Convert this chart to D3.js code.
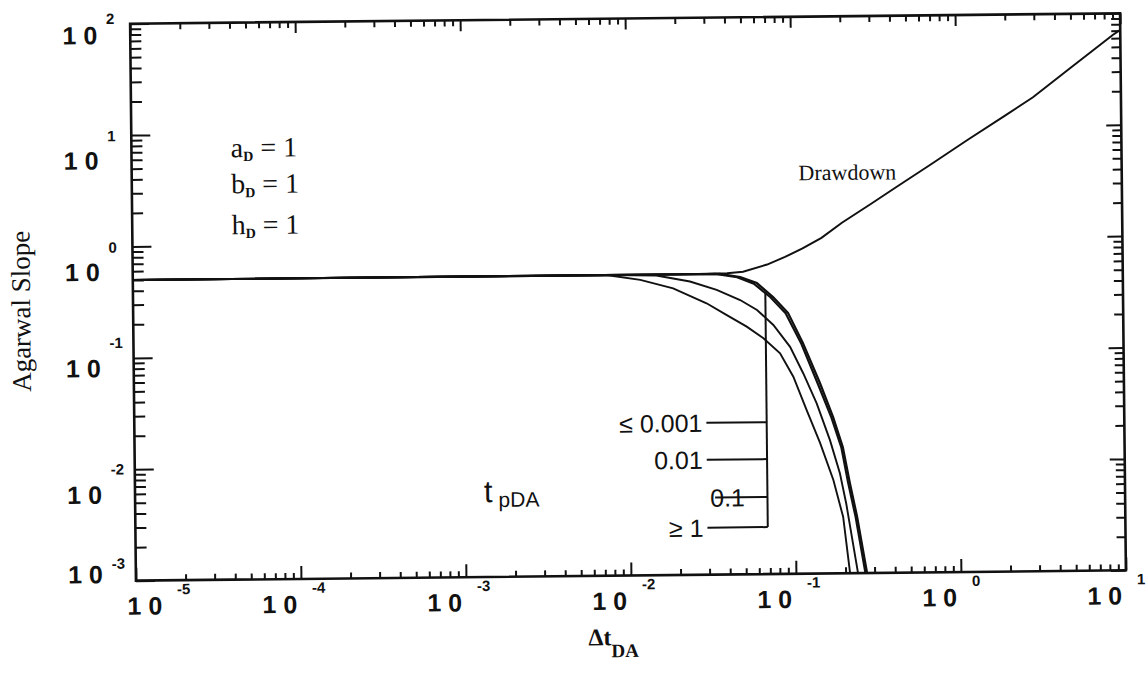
<!DOCTYPE html>
<html>
<head>
<meta charset="utf-8">
<script src="https://cdn.jsdelivr.net/npm/d3@7"></script>
<style>
  body { margin: 0; background: #fff; }
  svg { display: block; }
  .num { font-family: "Liberation Sans", Arial, sans-serif; font-weight: bold; fill: #111; }
  .serif { font-family: "Liberation Serif", "Times New Roman", serif; fill: #111; }
</style>
</head>
<body>
<div id="chart"></div>
<script>
// axis decades (exponents of ten)
const xDecades = [-5, -4, -3, -2, -1, 0, 1];
const yDecades = [-3, -2, -1, 0, 1, 2];

// Drawdown curve
const drawdownX = [1e-5, 1e-4, 1e-3, 0.01, 0.03, 0.04, 0.05, 0.07, 0.09, 0.115, 0.15, 0.2, 0.3, 0.43, 0.7, 1.16, 2, 2.93, 5, 9, 10];
const drawdownY = [0.5, 0.5, 0.5, 0.5, 0.5, 0.505, 0.52, 0.6, 0.7, 0.83, 1.03, 1.4, 2.05, 2.9, 4.6, 7.5, 12.5, 18, 33, 64, 71];

// buildup curves, one per producing time t_pDA
const tpLabels = ["\u2264  0.001", "0.01", "0.1", "\u2265 1"];
const buildX = [
  [1e-5, 1e-3, 0.02, 0.036, 0.048, 0.0605, 0.0757, 0.093, 0.114, 0.144, 0.172, 0.196, 0.215, 0.237, 0.27],
  [1e-5, 1e-3, 0.02, 0.034, 0.046, 0.058, 0.073, 0.09, 0.111, 0.14, 0.168, 0.192, 0.21, 0.232, 0.264],
  [1e-5, 1e-3, 0.008, 0.0149, 0.0238, 0.0345, 0.0478, 0.0604, 0.0757, 0.0953, 0.114, 0.137, 0.164, 0.1875, 0.204, 0.238],
  [1e-5, 1e-3, 0.0074, 0.0119, 0.0188, 0.0299, 0.0396, 0.0522, 0.0658, 0.0828, 0.0993, 0.119, 0.143, 0.171, 0.195, 0.213]
];
const buildY = [
  [0.5, 0.5, 0.5, 0.5, 0.467, 0.41, 0.306, 0.22, 0.118, 0.051, 0.0253, 0.0136, 0.0065, 0.0032, 0.001],
  [0.5, 0.5, 0.5, 0.5, 0.465, 0.405, 0.305, 0.218, 0.118, 0.05, 0.025, 0.0135, 0.0065, 0.0032, 0.001],
  [0.5, 0.5, 0.5, 0.49, 0.43, 0.359, 0.29, 0.235, 0.172, 0.109, 0.063, 0.0337, 0.0157, 0.0079, 0.0042, 0.001],
  [0.5, 0.5, 0.5, 0.449, 0.375, 0.273, 0.213, 0.167, 0.131, 0.0955, 0.0588, 0.0294, 0.0148, 0.0069, 0.0032, 0.001]
];

// label bracket (data coords)
const bracketX = [0.0293, 0.068];
const bracketTop = 0.34;
const bracketY = [0.0231, 0.01076, 0.00491, 0.00264];

const params = ["a", "b", "h"];

const width = 1148, height = 676;
const frame = { left: 133, right: 1123, top: 18.5, bottom: 575.5 };

const svg = d3.select("#chart").append("svg")
  .attr("width", width)
  .attr("height", height);

// the scanned figure is tilted a little
const g = svg.append("g").attr("transform", "rotate(-0.6, 628, 297)");

const x = d3.scaleLog().domain([1e-5, 10]).range([frame.left, frame.right]);
const y = d3.scaleLog().domain([1e-3, 100]).range([frame.bottom, frame.top]);

function minorTicks(decades) {
  const out = [];
  decades.slice(0, -1).forEach((d) => {
    for (let k = 2; k <= 9; k++) out.push(k * Math.pow(10, d));
  });
  return out;
}
const xMajor = xDecades.map((d) => Math.pow(10, d));
const yMajor = yDecades.map((d) => Math.pow(10, d));

function addAxis(axisFn, scale, values, size, transform) {
  const a = g.append("g")
    .attr("transform", transform)
    .call(axisFn(scale).tickValues(values).tickSizeInner(-size).tickSizeOuter(0).tickFormat(""));
  a.select(".domain").remove();
  a.selectAll(".tick line").attr("stroke", "#111").attr("stroke-width", 2);
}

// inward ticks on all four sides
addAxis(d3.axisBottom, x, minorTicks(xDecades), 6, `translate(0,${frame.bottom})`);
addAxis(d3.axisBottom, x, xMajor, 13, `translate(0,${frame.bottom})`);
addAxis(d3.axisTop, x, minorTicks(xDecades), 6, `translate(0,${frame.top})`);
addAxis(d3.axisTop, x, xMajor, 11, `translate(0,${frame.top})`);
addAxis(d3.axisLeft, y, minorTicks(yDecades), 11, `translate(${frame.left},0)`);
addAxis(d3.axisLeft, y, yMajor, 19, `translate(${frame.left},0)`);
addAxis(d3.axisRight, y, minorTicks(yDecades), 9, `translate(${frame.right},0)`);
addAxis(d3.axisRight, y, yMajor, 15, `translate(${frame.right},0)`);

g.append("rect")
  .attr("x", frame.left).attr("y", frame.top)
  .attr("width", frame.right - frame.left).attr("height", frame.bottom - frame.top)
  .attr("fill", "none").attr("stroke", "#111").attr("stroke-width", 2.6);

// x tick labels: "10" plus exponent
xDecades.forEach((d, i) => {
  const px = x(Math.pow(10, d)) + (i === 0 ? 33 : 3);
  g.append("text").attr("class", "num")
    .attr("x", px).attr("y", frame.bottom + 34)
    .attr("text-anchor", "end")
    .style("font-size", "25px").style("letter-spacing", "7px")
    .text("10");
  g.append("text").attr("class", "num")
    .attr("x", px + 8).attr("y", frame.bottom + 14)
    .style("font-size", "15px")
    .text(d);
});

// y tick labels
const ySupShift = { "-3": -12, "-2": 5, "-1": -10, "0": 6, "1": 6, "2": 0 };
const yBaseShift = { "-3": 2, "-2": 34, "-1": 19, "0": 34, "1": 34, "2": 20 };
yDecades.forEach((d) => {
  const py = y(Math.pow(10, d));
  g.append("text").attr("class", "num")
    .attr("x", frame.left - 26).attr("y", py + yBaseShift[d])
    .attr("text-anchor", "end")
    .style("font-size", "25px").style("letter-spacing", "7px")
    .text("10");
  g.append("text").attr("class", "num")
    .attr("x", frame.left - 24).attr("y", py + ySupShift[d])
    .style("font-size", "15px")
    .text(d);
});

// axis titles
g.append("text").attr("class", "serif")
  .attr("transform", `translate(30, ${(frame.top + frame.bottom) / 2 + 8}) rotate(-90)`)
  .attr("text-anchor", "middle")
  .style("font-size", "27px")
  .text("Agarwal Slope");

const xt = g.append("text").attr("class", "serif")
  .attr("x", 610).attr("y", 645)
  .attr("text-anchor", "middle")
  .style("font-size", "24px").style("font-weight", "bold");
xt.append("tspan").text("\u0394t");
xt.append("tspan").attr("dy", 12).style("font-size", "19px").text("DA");

// curves
const line = d3.line()
  .x((d) => x(d[0]))
  .y((d) => y(d[1]));

g.append("path")
  .datum(drawdownX.map((v, i) => [v, drawdownY[i]]))
  .attr("fill", "none").attr("stroke", "#111").attr("stroke-width", 2)
  .attr("d", line);

buildX.forEach((xs, k) => {
  g.append("path")
    .datum(xs.map((v, i) => [v, buildY[k][i]]))
    .attr("fill", "none").attr("stroke", "#111")
    .attr("stroke-width", k < 2 ? 2.2 : 1.9)
    .attr("d", line);
});

// bracket joining the t_pDA labels to their curves
g.append("line")
  .attr("x1", x(bracketX[1])).attr("x2", x(bracketX[1]))
  .attr("y1", y(bracketTop)).attr("y2", y(bracketY[3]))
  .attr("stroke", "#111").attr("stroke-width", 2);
bracketY.forEach((v, i) => {
  g.append("line")
    .attr("x1", x(bracketX[0]) + (i === 2 ? 8 : 0)).attr("x2", x(bracketX[1]))
    .attr("y1", y(v)).attr("y2", y(v))
    .attr("stroke", "#111").attr("stroke-width", 2);
  const t = g.append("text").attr("class", "num")
    .attr("y", y(v) + 9)
    .style("font-size", "25px").style("font-weight", "normal")
    .text(tpLabels[i]);
  if (i === 2) {
    t.attr("x", x(bracketX[0]) + 3).attr("text-anchor", "start");
  } else {
    t.attr("x", x(bracketX[0]) - 4).attr("text-anchor", "end");
  }
});

const tp = g.append("text").attr("class", "num")
  .attr("x", x(0.0013)).attr("y", y(0.0047))
  .style("font-weight", "normal");
tp.append("tspan").style("font-size", "31px").text("t");
tp.append("tspan").attr("dx", 6).attr("dy", 5).style("font-size", "21px").text("pDA");

// dimensionless geometry parameters
params.forEach((p, i) => {
  const t = g.append("text").attr("class", "serif")
    .attr("x", x(4e-5)).attr("y", y([6.2, 2.94, 1.26][i]))
    .style("font-size", "28px");
  t.append("tspan").text(p);
  t.append("tspan").attr("dy", 4).style("font-size", "14px").style("font-weight", "bold").text("D");
  t.append("tspan").attr("dy", -4).text(" = 1");
});

g.append("text").attr("class", "serif")
  .attr("x", x(0.11)).attr("y", y(3.4))
  .style("font-size", "22px")
  .text("Drawdown");
</script>
</body>
</html>
